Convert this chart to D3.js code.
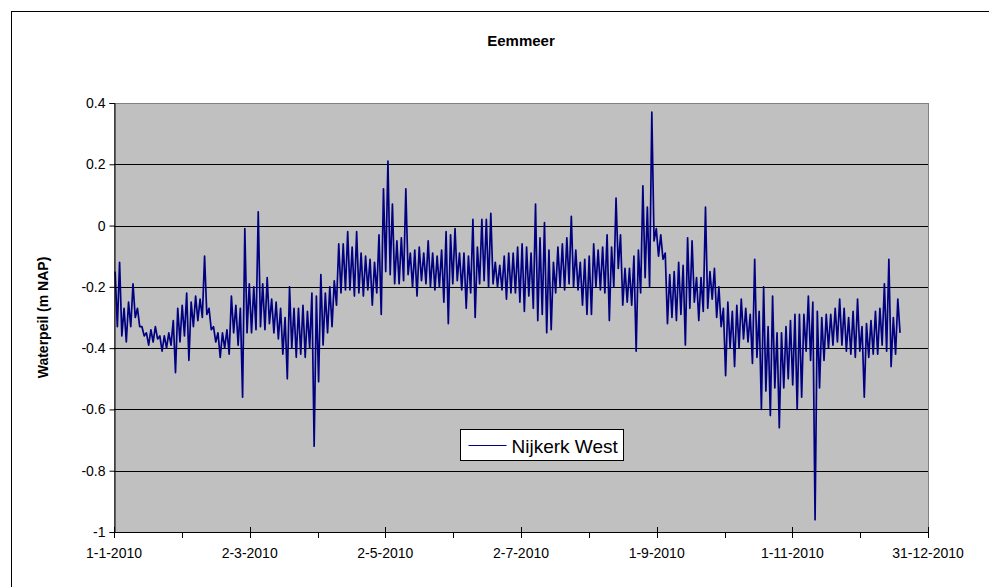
<!DOCTYPE html>
<html>
<head>
<meta charset="utf-8">
<script src="https://cdn.jsdelivr.net/npm/d3@7"></script>
<style>
  body { margin: 0; background: #fff; }
  text { font-family: "Liberation Sans", Arial, sans-serif; fill: #000; }
</style>
</head>
<body>
<div id="container"></div>
<script>
// Eemmeer, Nijkerk West 2010 - water level in 2-day bins (high / low of each bin)
var binDays = 2;
var binHigh = [
  -0.15,-0.12,-0.27,-0.25,-0.19,-0.27,-0.33,-0.35,-0.34,-0.33,
  -0.36,-0.36,-0.35,-0.31,-0.27,-0.26,-0.22,-0.25,-0.23,-0.24,
  -0.10,-0.27,-0.33,-0.35,-0.35,-0.34,-0.23,-0.26,-0.27,-0.01,
  -0.19,-0.20,0.045,-0.19,-0.17,-0.24,-0.25,-0.27,-0.30,-0.20,
  -0.27,-0.27,-0.26,-0.28,-0.22,
  -0.23,-0.16,-0.22,-0.20,-0.18,-0.06,-0.06,-0.02,-0.07,-0.02,
  -0.09,-0.10,-0.11,-0.12,-0.03,0.12,0.21,0.07,-0.05,-0.04,
  0.12,-0.09,-0.08,-0.07,-0.09,-0.05,-0.09,-0.10,-0.08,-0.02,
  -0.03,-0.01,-0.09,-0.09,-0.10,0.02,-0.07,0.02,0.02,0.04,
  -0.12,-0.13,-0.10,-0.09,
  -0.09,-0.07,-0.06,-0.07,-0.09,0.07,-0.04,0.01,-0.08,-0.12,
  -0.07,-0.06,-0.04,0.03,-0.08,-0.12,-0.11,-0.10,-0.06,-0.08,
  -0.07,-0.03,-0.07,0.09,-0.03,-0.14,-0.14,-0.10,-0.08,0.13,
  0.06,0.37,-0.01,-0.03,-0.09,-0.16,-0.15,-0.12,-0.13,-0.04,
  -0.05,-0.17,-0.17,0.06,-0.15,
  -0.14,-0.20,-0.27,-0.25,-0.28,-0.26,-0.24,-0.27,-0.29,-0.11,
  -0.28,-0.20,-0.33,-0.23,-0.35,-0.35,-0.33,-0.31,-0.29,-0.29,
  -0.29,-0.23,-0.25,-0.28,-0.30,-0.29,-0.29,-0.27,-0.24,-0.27,
  -0.30,-0.28,-0.24,-0.33,-0.32,-0.31,-0.28,-0.27,-0.19,-0.11,
  -0.30,-0.24
];
var binLow = [
  -0.33,-0.36,-0.38,-0.33,-0.30,-0.33,-0.36,-0.39,-0.38,-0.37,
  -0.41,-0.40,-0.39,-0.48,-0.38,-0.36,-0.44,-0.33,-0.31,-0.30,
  -0.29,-0.34,-0.38,-0.43,-0.40,-0.42,-0.35,-0.39,-0.56,-0.35,
  -0.35,-0.34,-0.33,-0.34,-0.32,-0.35,-0.37,-0.42,-0.50,-0.40,
  -0.43,-0.42,-0.43,-0.40,-0.72,
  -0.51,-0.39,-0.35,-0.33,-0.26,-0.22,-0.21,-0.21,-0.23,-0.22,
  -0.23,-0.21,-0.26,-0.22,-0.29,-0.15,-0.16,-0.19,-0.19,-0.18,
  -0.16,-0.20,-0.23,-0.18,-0.19,-0.20,-0.21,-0.20,-0.25,-0.32,
  -0.19,-0.18,-0.21,-0.27,-0.22,-0.30,-0.19,-0.18,-0.20,-0.19,
  -0.20,-0.21,-0.24,-0.22,
  -0.22,-0.25,-0.28,-0.23,-0.27,-0.31,-0.29,-0.35,-0.34,-0.22,
  -0.20,-0.21,-0.19,-0.20,-0.21,-0.26,-0.29,-0.29,-0.20,-0.21,
  -0.22,-0.31,-0.20,-0.14,-0.26,-0.25,-0.26,-0.41,-0.22,-0.17,
  -0.20,-0.05,-0.10,-0.11,-0.32,-0.30,-0.31,-0.29,-0.39,-0.27,
  -0.25,-0.31,-0.28,-0.27,-0.24,
  -0.30,-0.33,-0.49,-0.40,-0.46,-0.40,-0.37,-0.38,-0.45,-0.43,
  -0.60,-0.54,-0.62,-0.53,-0.66,-0.53,-0.50,-0.52,-0.60,-0.56,
  -0.41,-0.44,-0.96,-0.53,-0.44,-0.40,-0.39,-0.38,-0.39,-0.41,
  -0.42,-0.43,-0.41,-0.56,-0.43,-0.42,-0.42,-0.39,-0.41,-0.46,
  -0.42,-0.35
];

var yTicks = [-1, -0.8, -0.6, -0.4, -0.2, 0, 0.2, 0.4];
var xTickLabels = ["1-1-2010", "2-3-2010", "2-5-2010", "2-7-2010", "1-9-2010", "1-11-2010", "31-12-2010"];
var yearDays = 364;

var width = 989, height = 587;
var plotLeft = 114, plotRight = 928, plotTop = 103, plotBottom = 532;

var svg = d3.select("#container").append("svg")
  .attr("width", width)
  .attr("height", height);

// chart frame
svg.append("rect")
  .attr("x", 11.5).attr("y", 11.5)
  .attr("width", 1000).attr("height", 600)
  .attr("fill", "#fff").attr("stroke", "#000");

var x = d3.scaleLinear().domain([0, yearDays]).range([plotLeft, plotRight]);
var y = d3.scaleLinear().domain([-1, 0.4]).range([plotBottom, plotTop]);

// plot area
svg.append("rect")
  .attr("x", plotLeft + 0.5).attr("y", plotTop + 0.5)
  .attr("width", plotRight - plotLeft).attr("height", plotBottom - plotTop)
  .attr("fill", "#c0c0c0").attr("stroke", "#808080");

// gridlines
svg.selectAll(".grid")
  .data(yTicks.slice(1, -1))
  .enter().append("line")
  .attr("x1", plotLeft).attr("x2", plotRight)
  .attr("y1", function(d) { return Math.round(y(d)) + 0.5; })
  .attr("y2", function(d) { return Math.round(y(d)) + 0.5; })
  .attr("stroke", "#000").attr("stroke-width", 1);

// series, zigzag through bin high and low
var points = [];
binHigh.forEach(function(h, i) {
  points.push({ day: i * binDays + 0.5, v: h });
  points.push({ day: i * binDays + 1.5, v: binLow[i] });
});

var line = d3.line()
  .x(function(d) { return x(d.day); })
  .y(function(d) { return y(d.v); });

svg.append("path")
  .datum(points)
  .attr("d", line)
  .attr("fill", "none")
  .attr("stroke", "#000080")
  .attr("stroke-width", 1.7)
  .attr("stroke-linejoin", "round");

// y axis
var yAxis = svg.append("g")
  .attr("transform", "translate(" + (plotLeft + 0.5) + ",0)")
  .call(d3.axisLeft(y).tickValues(yTicks).tickSize(5).tickPadding(4)
    .tickFormat(function(d) { return String(d); }));
yAxis.select(".domain").attr("stroke", "#000");
yAxis.selectAll(".tick line").attr("stroke", "#000");
yAxis.selectAll("text")
  .style("font-size", "14px")
  .style("font-family", "Liberation Sans, Arial, sans-serif")
  .attr("fill", "#000");

// x axis: 6 major steps, minor halfway
var majorDays = d3.range(xTickLabels.length).map(function(i) { return i * yearDays / (xTickLabels.length - 1); });
var minorDays = majorDays.slice(0, -1).map(function(d) { return d + yearDays / 12; });

svg.append("line")
  .attr("x1", plotLeft).attr("x2", plotRight)
  .attr("y1", plotBottom + 0.5).attr("y2", plotBottom + 0.5)
  .attr("stroke", "#000");

svg.selectAll(".xmajor")
  .data(majorDays)
  .enter().append("line")
  .attr("x1", function(d) { return Math.round(x(d)) + 0.5; })
  .attr("x2", function(d) { return Math.round(x(d)) + 0.5; })
  .attr("y1", plotBottom - 5).attr("y2", plotBottom + 6)
  .attr("stroke", "#000");

svg.selectAll(".xminor")
  .data(minorDays)
  .enter().append("line")
  .attr("x1", function(d) { return Math.round(x(d)) + 0.5; })
  .attr("x2", function(d) { return Math.round(x(d)) + 0.5; })
  .attr("y1", plotBottom).attr("y2", plotBottom + 6)
  .attr("stroke", "#000");

svg.selectAll(".xlabel")
  .data(majorDays)
  .enter().append("text")
  .attr("x", function(d) { return x(d); })
  .attr("y", 558)
  .attr("text-anchor", "middle")
  .style("font-size", "14px")
  .text(function(d, i) { return xTickLabels[i]; });

// titles
svg.append("text")
  .attr("x", (plotLeft + plotRight) / 2).attr("y", 46)
  .attr("text-anchor", "middle")
  .style("font-size", "15px").style("font-weight", "bold")
  .text("Eemmeer");

svg.append("text")
  .attr("transform", "translate(48," + ((plotTop + plotBottom) / 2) + ") rotate(-90)")
  .attr("text-anchor", "middle")
  .style("font-size", "14px").style("font-weight", "bold")
  .text("Waterpeil (m NAP)");

// legend
var legend = svg.append("g").attr("transform", "translate(460.5,429.5)");
legend.append("rect")
  .attr("width", 163).attr("height", 31)
  .attr("fill", "#fff").attr("stroke", "#000");
legend.append("line")
  .attr("x1", 8).attr("x2", 46).attr("y1", 16).attr("y2", 16)
  .attr("stroke", "#000080").attr("stroke-width", 1.2);
legend.append("text")
  .attr("x", 51).attr("y", 23)
  .style("font-size", "19px")
  .text("Nijkerk West");
</script>
</body>
</html>
